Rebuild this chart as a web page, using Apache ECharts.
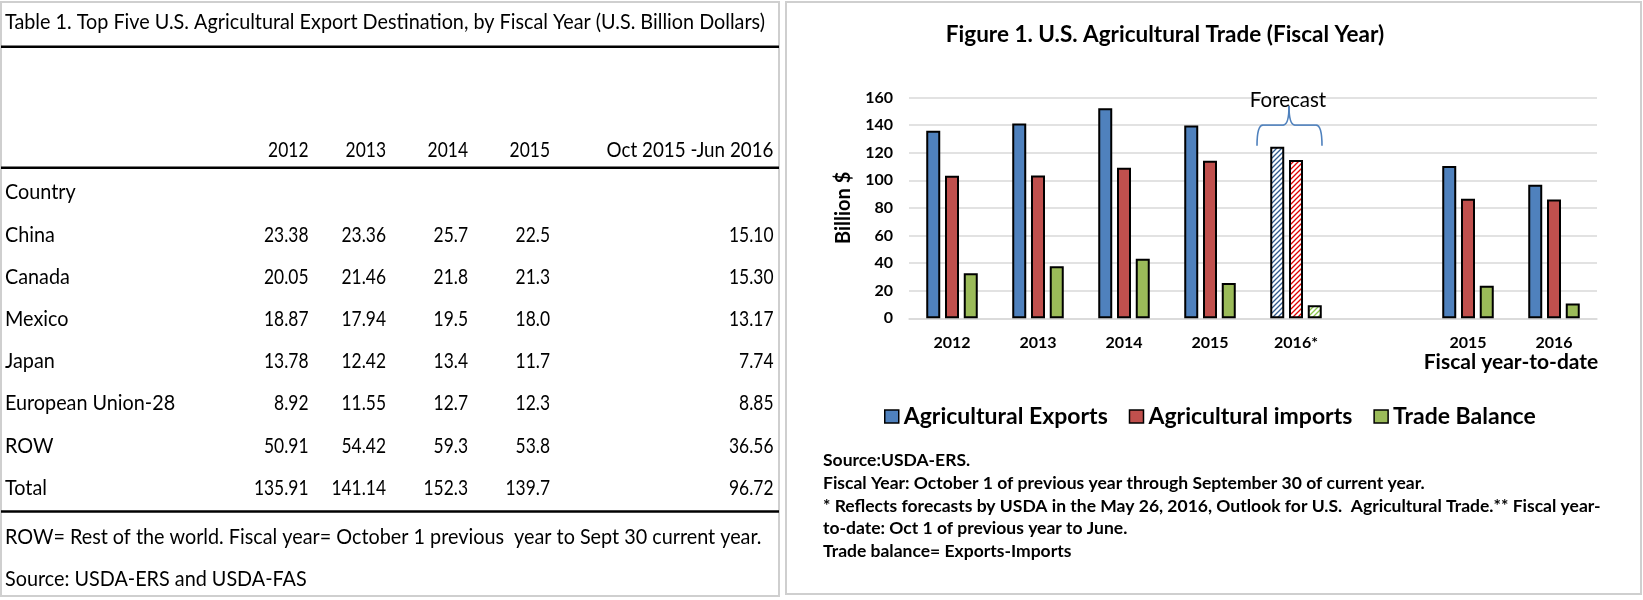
<!DOCTYPE html>
<html><head><meta charset="utf-8">
<script src="https://cdn.jsdelivr.net/npm/echarts@6/dist/echarts.min.js"></script>
<style>html,body{margin:0;padding:0;background:#fff}#main{width:1643px;height:600px}</style>
</head><body><div id="main"></div>
<script>
// ---------- Data: Figure 1 ----------
const categories = ['2012', '2013', '2014', '2015', '2016*', '', '2015', '2016'];
const exportsVals = [135.91, 141.14, 152.3, 139.7, 124.3, null, 110.3, 96.72];
const importsVals = [103.3, 103.4, 109.1, 114.2, 114.8, null, 86.7, 86.0];
const balanceVals = [32.6, 37.7, 43.2, 25.5, 9.4, null, 23.6, 10.7];
const seriesNames = ['Agricultural Exports', 'Agricultural imports', 'Trade Balance'];
const forecastIndex = 4;
const yTicks = [0, 20, 40, 60, 80, 100, 120, 140, 160];
const figTitle = 'Figure 1. U.S. Agricultural Trade (Fiscal Year)';
const yName = 'Billion $';
const ytdLabel = 'Fiscal year-to-date';
const forecastLabel = 'Forecast';
const figNotes = [
  'Source:USDA-ERS.',
  'Fiscal Year: October 1 of previous year through September 30 of current year.',
  '* Reflects forecasts by USDA in the May 26, 2016, Outlook for U.S.  Agricultural Trade.** Fiscal year-',
  'to-date: Oct 1 of previous year to June.',
  'Trade balance= Exports-Imports'
];

// ---------- Data: Table 1 ----------
const tableTitle = 'Table 1. Top Five U.S. Agricultural Export Destination, by Fiscal Year (U.S. Billion Dollars)';
const tableHeaders = ['2012', '2013', '2014', '2015', 'Oct 2015 -Jun 2016'];
const countryHeader = 'Country';
const countries = ['China', 'Canada', 'Mexico', 'Japan', 'European Union-28', 'ROW', 'Total'];
const col2012 = ['23.38', '20.05', '18.87', '13.78', '8.92', '50.91', '135.91'];
const col2013 = ['23.36', '21.46', '17.94', '12.42', '11.55', '54.42', '141.14'];
const col2014 = ['25.7', '21.8', '19.5', '13.4', '12.7', '59.3', '152.3'];
const col2015 = ['22.5', '21.3', '18.0', '11.7', '12.3', '53.8', '139.7'];
const colYTD = ['15.10', '15.30', '13.17', '7.74', '8.85', '36.56', '96.72'];
const tableNotes = [
  'ROW= Rest of the world. Fiscal year= October 1 previous  year to Sept 30 current year.',
  'Source: USDA-ERS and USDA-FAS'
];

// ---------- Styles ----------
const COLORS = ['#4F81BD', '#C0504D', '#9BBB59'];
const HATCH = ['#2F5A8E', '#E00000', '#8CC84B'];
const FF = 'Lato, "Open Sans", sans-serif';

function hatch(color) {
  const c = document.createElement('canvas');
  c.width = 5; c.height = 5;
  const g = c.getContext('2d');
  g.fillStyle = '#fff'; g.fillRect(0, 0, 5, 5);
  g.strokeStyle = color; g.lineWidth = 1.3;
  g.beginPath();
  g.moveTo(0, 5); g.lineTo(5, 0);
  g.moveTo(-1, 1); g.lineTo(1, -1);
  g.moveTo(4, 6); g.lineTo(6, 4);
  g.stroke();
  return { image: c, repeat: 'repeat' };
}

function seriesData(vals, k) {
  return vals.map((v, i) => i === forecastIndex
    ? { value: v, itemStyle: { color: hatch(HATCH[k]) } }
    : v);
}

const chart = echarts.init(document.getElementById('main'), null, { renderer: 'canvas' });

const allVals = [exportsVals, importsVals, balanceVals];
chart.setOption({
  animation: false,
  backgroundColor: '#fff',
  grid: { left: 909, right: 46, top: 97.5, bottom: 281.7, outerBoundsMode: 'none' },
  legend: {
    data: seriesNames,
    left: 879, top: 400,
    icon: 'rect', itemWidth: 14, itemHeight: 13, itemGap: 21,
    itemStyle: { borderColor: '#000', borderWidth: 1.5 },
    textStyle: { fontFamily: FF, fontWeight: 'bold', fontSize: 23, color: '#000' },
    selectedMode: false
  },
  xAxis: {
    type: 'category',
    data: categories.map((c, i) => 'c' + i),
    axisLine: { lineStyle: { color: '#d9d9d9', width: 1.5 } },
    axisTick: { show: false },
    axisLabel: {
      interval: 0, margin: 17, color: '#000',
      fontFamily: FF, fontWeight: 'bold', fontSize: 16,
      formatter: (v, i) => categories[i]
    }
  },
  yAxis: {
    type: 'value', min: yTicks[0], max: yTicks[yTicks.length - 1], interval: yTicks[1] - yTicks[0],
    name: yName, nameLocation: 'middle', nameGap: 55,
    nameTextStyle: { fontFamily: FF, fontWeight: 'bold', fontSize: 20, color: '#000' },
    axisLine: { show: false }, axisTick: { show: false },
    axisLabel: { margin: 16, color: '#000', fontFamily: FF, fontWeight: 'bold', fontSize: 16 },
    splitLine: { lineStyle: { color: '#d9d9d9', width: 1.5 } }
  },
  series: seriesNames.map((name, k) => ({
    name, type: 'bar',
    data: seriesData(allVals[k], k),
    barWidth: 14, barGap: '34%',
    itemStyle: { color: COLORS[k], borderColor: '#000', borderWidth: 2 },
    emphasis: { disabled: true },
    silent: true
  }))
});

// ---------- Annotations & table (graphic) ----------
const px = (i, v) => chart.convertToPixel({ xAxisIndex: 0, yAxisIndex: 0 }, [i, v]);
const g = [];

// panel borders
g.push({ type: 'rect', silent: true, shape: { x: 1, y: 2, width: 778, height: 594 }, style: { fill: 'none', stroke: '#cfcfcf', lineWidth: 2 } });
g.push({ type: 'rect', silent: true, shape: { x: 786, y: 2, width: 855, height: 592 }, style: { fill: 'none', stroke: '#cfcfcf', lineWidth: 2 } });

// figure title
g.push({ type: 'text', silent: true, x: 1165, y: 35,
  style: { text: figTitle, fill: '#000', fontFamily: FF, fontWeight: 'bold', fontSize: 22.5, align: 'center', verticalAlign: 'middle' } });

// forecast brace
const c4 = px(forecastIndex, 0)[0];
const yTip = px(forecastIndex, 125)[1];
const yH = px(forecastIndex, 140)[1];
const yP = px(forecastIndex, 154)[1];
const braceStyle = { stroke: '#4F81BD', lineWidth: 1.6, fill: 'none' };
const L = c4 - 39, M = c4 - 7, R = c4 + 26;
g.push({ type: 'bezierCurve', silent: true, shape: { x1: L, y1: yTip, x2: L + 6, y2: yH, cpx1: L, cpy1: yH }, style: braceStyle });
g.push({ type: 'line', silent: true, shape: { x1: L + 6, y1: yH, x2: M - 6, y2: yH }, style: braceStyle });
g.push({ type: 'bezierCurve', silent: true, shape: { x1: M - 6, y1: yH, x2: M, y2: yP, cpx1: M, cpy1: yH }, style: braceStyle });
g.push({ type: 'bezierCurve', silent: true, shape: { x1: M, y1: yP, x2: M + 6, y2: yH, cpx1: M, cpy1: yH }, style: braceStyle });
g.push({ type: 'line', silent: true, shape: { x1: M + 6, y1: yH, x2: R - 6, y2: yH }, style: braceStyle });
g.push({ type: 'bezierCurve', silent: true, shape: { x1: R - 6, y1: yH, x2: R, y2: yTip, cpx1: R, cpy1: yH }, style: braceStyle });
g.push({ type: 'text', silent: true, x: c4 - 8, y: px(forecastIndex, 158)[1],
  style: { text: forecastLabel, fill: '#000', fontFamily: FF, fontSize: 20.5, align: 'center', verticalAlign: 'middle' } });

// fiscal year-to-date label
const c6 = px(6, 0), c7 = px(7, 0);
g.push({ type: 'text', silent: true, x: (c6[0] + c7[0]) / 2, y: c6[1] + 44,
  style: { text: ytdLabel, fill: '#000', fontFamily: FF, fontWeight: 'bold', fontSize: 21, align: 'center', verticalAlign: 'middle' } });

// figure notes
figNotes.forEach((t, i) => g.push({ type: 'text', silent: true, x: 823, y: 460.5 + i * 22.75,
  style: { text: t, fill: '#000', fontFamily: FF, fontWeight: 'bold', fontSize: 17.5, align: 'left', verticalAlign: 'middle' } }));

// table
const TFS = 21.5;
const mctx = document.createElement('canvas').getContext('2d');
mctx.font = TFS + 'px Lato';
const tScale = 760 / mctx.measureText(tableTitle).width;
const numScale = tScale * 0.88;
function tText(str, x, y, align, sx) {
  return { type: 'text', silent: true, x, y, scaleX: sx || tScale,
    style: { text: str, x: 0, y: 0, fill: '#000', fontFamily: FF, fontSize: TFS, align, verticalAlign: 'middle' } };
}
function hLine(y) {
  return { type: 'line', silent: true, shape: { x1: 1, y1: y, x2: 779, y2: y }, style: { stroke: '#000', lineWidth: 2.5 } };
}
g.push(tText(tableTitle, 5, 22, 'left'));
g.push(hLine(46.7));
const colRight = [308.5, 386, 468, 550, 773.5];
tableHeaders.forEach((h, j) => g.push(tText(h, colRight[j], 150, 'right', j < 4 ? numScale : tScale * 0.95)));
g.push(hLine(167.7));
g.push(tText(countryHeader, 5, 192.5, 'left'));
const cols = [col2012, col2013, col2014, col2015, colYTD];
countries.forEach((c, i) => {
  const y = 234.7 + i * 42.2;
  g.push(tText(c, 5, y, 'left'));
  cols.forEach((col, j) => g.push(tText(col[i], colRight[j], y, 'right', numScale)));
});
g.push(hLine(511.5));
tableNotes.forEach((t, i) => g.push(tText(t, 5, 537 + i * 42, 'left')));

chart.setOption({ graphic: g });
</script>
</body></html>
